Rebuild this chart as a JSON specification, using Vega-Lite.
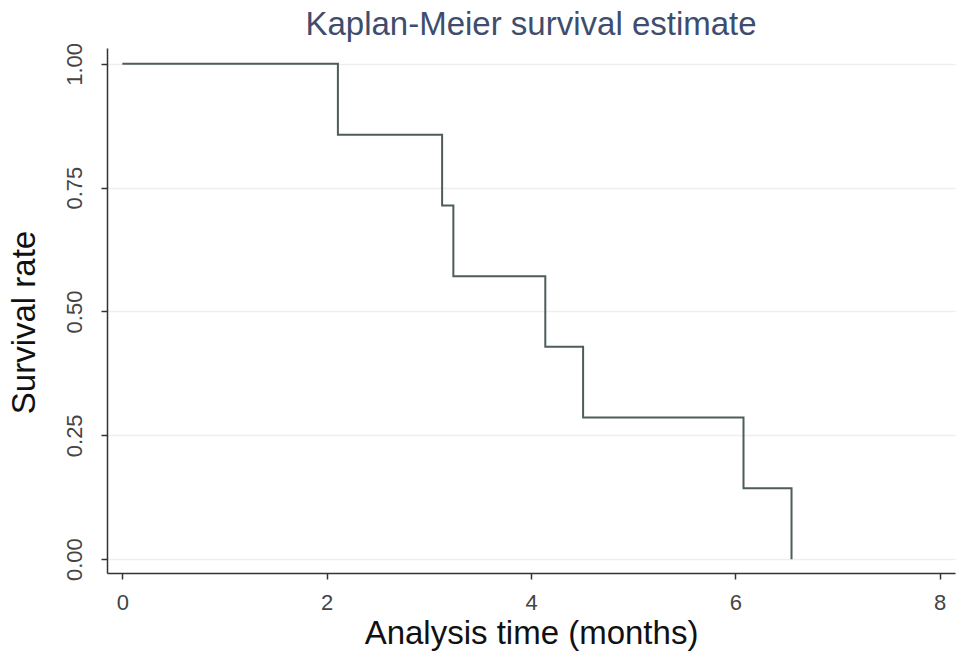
{
  "$schema": "https://vega.github.io/schema/vega-lite/v6.json",
  "width": 848,
  "height": 525,
  "autosize": {"type": "none"},
  "padding": {"left": 107, "top": 48, "right": 14, "bottom": 93},
  "background": "white",
  "title": {
    "text": "Kaplan-Meier survival estimate",
    "font": "Liberation Sans",
    "fontSize": 33,
    "fontWeight": "normal",
    "color": "#3e4d6e",
    "anchor": "middle",
    "offset": 0
  },
  "config": {
    "view": {"stroke": null},
    "axis": {
      "labelFont": "Liberation Sans",
      "titleFont": "Liberation Sans",
      "labelColor": "#444444",
      "titleColor": "#111111",
      "domainColor": "#333333",
      "domainWidth": 1.5,
      "tickColor": "#333333",
      "tickWidth": 1.5,
      "tickSize": 6,
      "labelFontSize": 22,
      "titleFontSize": 33,
      "titleFontWeight": "normal"
    }
  },
  "data": {
    "values": [
      {"time": 0, "survival": 1.0},
      {"time": 2.11, "survival": 0.857},
      {"time": 3.13, "survival": 0.714},
      {"time": 3.24, "survival": 0.571},
      {"time": 4.14, "survival": 0.429},
      {"time": 4.51, "survival": 0.286},
      {"time": 6.08, "survival": 0.143},
      {"time": 6.55, "survival": 0.0}
    ]
  },
  "mark": {"type": "line", "interpolate": "step-after", "color": "#4e5c5c", "strokeWidth": 2},
  "encoding": {
    "x": {
      "field": "time",
      "type": "quantitative",
      "scale": {"domain": [-0.15, 8.15], "nice": false, "zero": false},
      "axis": {
        "title": "Analysis time (months)",
        "values": [0, 2, 4, 6, 8],
        "grid": false,
        "labelPadding": 13,
        "titlePadding": 4
      }
    },
    "y": {
      "field": "survival",
      "type": "quantitative",
      "scale": {"domain": [-0.028, 1.032], "nice": false, "zero": false},
      "axis": {
        "title": "Survival rate",
        "values": [0, 0.25, 0.5, 0.75, 1],
        "format": ".2f",
        "labelAngle": -90,
        "labelAlign": "center",
        "labelBaseline": "bottom",
        "labelPadding": 15,
        "titlePadding": 22,
        "titleY": 274,
        "grid": true,
        "gridColor": "#eeeeee",
        "gridWidth": 1.5
      }
    }
  }
}
